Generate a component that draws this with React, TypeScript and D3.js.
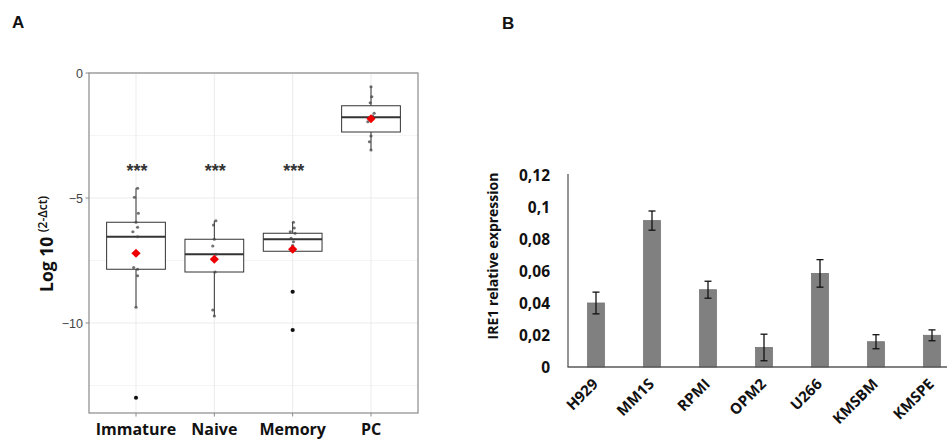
import React from "react";
import * as d3 from "d3";

// ---------- Panel A data ----------
const groups = ["Immature", "Naive", "Memory", "PC"];
const q1 = [-7.85, -7.96, -7.13, -2.36];
const medians = [-6.55, -7.25, -6.65, -1.77];
const q3 = [-5.97, -6.65, -6.41, -1.31];
const whiskerLow = [-9.37, -9.72, -7.13, -3.08];
const whiskerHigh = [-4.61, -5.91, -5.97, -0.55];
const means = [-7.21, -7.45, -7.05, -1.83];
const outliers = [[-12.99], [], [-8.75, -10.28], []];
const points = [
  [-4.61, -4.97, -5.61, -5.97, -6.17, -6.35, -6.55, -7.78, -7.85, -8.11, -9.37],
  [-5.91, -6.08, -6.65, -6.92, -7.25, -7.96, -9.48, -9.72],
  [-5.97, -6.2, -6.35, -6.41, -6.61, -6.75, -6.9, -7.08],
  [-0.55, -0.95, -1.19, -1.61, -1.72, -1.95, -2.52, -2.75, -3.08],
];
const jitter = [
  [0.02, -0.02, 0.03, 0.0, 0.02, -0.04, 0.02, -0.03, 0.02, 0.02, 0.0],
  [0.02, -0.01, 0.0, -0.02, 0.02, 0.01, -0.02, 0.0],
  [0.01, 0.02, -0.03, 0.03, -0.02, 0.01, 0.0, -0.02],
  [0.0, 0.01, -0.01, 0.04, 0.02, -0.04, 0.0, -0.02, 0.0],
];
const sigLabels = ["***", "***", "***", ""];
const sigLevel = -3.75;
const yTicksA = [0, -5, -10];
const yMinorA = [-2.5, -7.5, -12.5];

// ---------- Panel B data ----------
const cellLines = ["H929", "MM1S", "RPMI", "OPM2", "U266", "KMSBM", "KMSPE"];
const expression = [0.04, 0.0915, 0.0483, 0.0122, 0.0585, 0.0158, 0.0198];
const errors = [0.0068, 0.006, 0.0053, 0.0083, 0.0086, 0.0044, 0.0034];
const yTicksB = [0, 0.02, 0.04, 0.06, 0.08, 0.1, 0.12];
const yTickLabelsB = ["0", "0,02", "0,04", "0,06", "0,08", "0,1", "0,12"];

const CAL = "'Open Sans', Lato, sans-serif";
const ARIAL = "'Liberation Sans', Arial, sans-serif";

export default function App() {
  // Panel A scales
  const xA = d3.scalePoint<string>().domain(groups).range([89, 418]).padding(0.6);
  const yA = d3.scaleLinear().domain([-13.6, 0]).range([413, 73]);
  const boxW = xA.step() * 0.75;

  // Panel B scales
  const xB = d3
    .scaleBand<string>()
    .domain(cellLines)
    .range([568, 960])
    .paddingInner(0.7)
    .paddingOuter(0.35);
  const yB = d3.scaleLinear().domain([0, 0.12]).range([367, 175]);

  const dm = 4.6;
  const diamond = `M0,${-dm}L${dm},0L0,${dm}L${-dm},0Z`;

  return (
    <svg
      width={947}
      height={439}
      style={{ position: "absolute", left: 0, top: 0, background: "#fff" }}
      xmlns="http://www.w3.org/2000/svg"
    >
      <rect x={0} y={0} width={947} height={439} fill="#fff" />
      {/* Panel letters */}
      <text x={12} y={28} fontFamily={ARIAL} fontWeight="bold" fontSize={17} fill="#111">A</text>
      <text x={502} y={29} fontFamily={ARIAL} fontWeight="bold" fontSize={17} fill="#111">B</text>

      {/* ---------- Panel A ---------- */}
      <g>
        {yMinorA.map((v) => (
          <line key={"mn" + v} x1={89} x2={418} y1={yA(v)} y2={yA(v)} stroke="#f2f2f2" strokeWidth={0.8} />
        ))}
        {yTicksA.map((v) => (
          <line key={"mj" + v} x1={89} x2={418} y1={yA(v)} y2={yA(v)} stroke="#ebebeb" strokeWidth={1} />
        ))}
        {groups.map((g) => (
          <line key={"vg" + g} x1={xA(g)} x2={xA(g)} y1={73} y2={413} stroke="#ebebeb" strokeWidth={1} />
        ))}

        {groups.map((g, i) => {
          const cx = xA(g) as number;
          return (
            <g key={"box" + g}>
              <line x1={cx} x2={cx} y1={yA(whiskerHigh[i])} y2={yA(q3[i])} stroke="#333" strokeWidth={1} />
              <line x1={cx} x2={cx} y1={yA(q1[i])} y2={yA(whiskerLow[i])} stroke="#333" strokeWidth={1} />
              <rect
                x={cx - boxW / 2}
                y={yA(q3[i])}
                width={boxW}
                height={yA(q1[i]) - yA(q3[i])}
                fill="#fff"
                stroke="#333"
                strokeWidth={1}
              />
              <line x1={cx - boxW / 2} x2={cx + boxW / 2} y1={yA(medians[i])} y2={yA(medians[i])} stroke="#333" strokeWidth={2} />
              {outliers[i].map((o, k) => (
                <circle key={"o" + k} cx={cx} cy={yA(o)} r={2.1} fill="#111" />
              ))}
              {points[i].map((p, k) => (
                <circle
                  key={"p" + k}
                  cx={cx + jitter[i][k] * xA.step()}
                  cy={yA(p)}
                  r={1.6}
                  fill="#444"
                  opacity={0.75}
                />
              ))}
              <path d={diamond} transform={`translate(${cx},${yA(means[i])})`} fill="#ee0000" />
              {sigLabels[i] && (
                <text
                  x={cx + 1}
                  y={yA(sigLevel) + 10}
                  textAnchor="middle"
                  fontFamily={ARIAL}
                  fontWeight="bold"
                  fontSize={18}
                  fill="#333"
                >
                  {sigLabels[i]}
                </text>
              )}
            </g>
          );
        })}

        <rect x={89} y={73} width={329} height={340} fill="none" stroke="#8a8a8a" strokeWidth={1.2} />

        {yTicksA.map((v) => (
          <g key={"yt" + v}>
            <line x1={85.5} x2={89} y1={yA(v)} y2={yA(v)} stroke="#8a8a8a" strokeWidth={1} />
            <text
              x={83}
              y={yA(v) + 4.5}
              textAnchor="end"
              fontFamily={ARIAL}
              fontSize={12.5}
              fill="#444"
            >
              {v === 0 ? "0" : "\u2212" + Math.abs(v)}
            </text>
          </g>
        ))}
        {groups.map((g) => (
          <g key={"xt" + g}>
            <line x1={xA(g)} x2={xA(g)} y1={413} y2={416.5} stroke="#8a8a8a" strokeWidth={1} />
            <text x={xA(g)} y={434.5} textAnchor="middle" fontFamily={CAL} fontWeight="bold" fontSize={16} fill="#111">
              {g}
            </text>
          </g>
        ))}
        <text transform="translate(53,292) rotate(-90)" fontFamily={CAL} fill="#111">
          <tspan fontWeight="bold" fontSize={17.5}>Log 10 </tspan>
          <tspan fontSize={12} fontWeight="600" dy={-6}>(2-Δct)</tspan>
        </text>
      </g>

      {/* ---------- Panel B ---------- */}
      <g>
        {cellLines.map((c, i) => {
          const x = xB(c) as number;
          const cx = x + xB.bandwidth() / 2;
          return (
            <g key={"bar" + c}>
              <rect
                x={x}
                y={yB(expression[i])}
                width={xB.bandwidth()}
                height={yB(0) - yB(expression[i])}
                fill="#808080"
                stroke="#737373"
                strokeWidth={0.8}
              />
              <line x1={cx} x2={cx} y1={yB(expression[i] + errors[i])} y2={yB(expression[i] - errors[i])} stroke="#111" strokeWidth={1.3} />
              <line x1={cx - 3.5} x2={cx + 3.5} y1={yB(expression[i] + errors[i])} y2={yB(expression[i] + errors[i])} stroke="#111" strokeWidth={1.3} />
              <line x1={cx - 3.5} x2={cx + 3.5} y1={yB(expression[i] - errors[i])} y2={yB(expression[i] - errors[i])} stroke="#111" strokeWidth={1.3} />
              <text
                transform={`translate(${cx + 3},${385}) rotate(-45)`}
                textAnchor="end"
                fontFamily={CAL}
                fontWeight="bold"
                fontSize={15}
                fill="#111"
              >
                {c}
              </text>
            </g>
          );
        })}
        <line x1={568} x2={568} y1={174} y2={367} stroke="#595959" strokeWidth={1.3} />
        <line x1={567.5} x2={947} y1={367} y2={367} stroke="#595959" strokeWidth={1.3} />
        {yTicksB.map((v, i) => (
          <text
            key={"ybt" + v}
            x={550}
            y={yB(v) + 5.5}
            textAnchor="end"
            fontFamily={CAL}
            fontWeight="bold"
            fontSize={15.5}
            fill="#111"
          >
            {yTickLabelsB[i]}
          </text>
        ))}
        <text
          transform="translate(498,256) rotate(-90)"
          textAnchor="middle"
          fontFamily={CAL}
          fontWeight="bold"
          fontSize={14}
          fill="#111"
        >
          IRE1 relative expression
        </text>
      </g>
    </svg>
  );
}
